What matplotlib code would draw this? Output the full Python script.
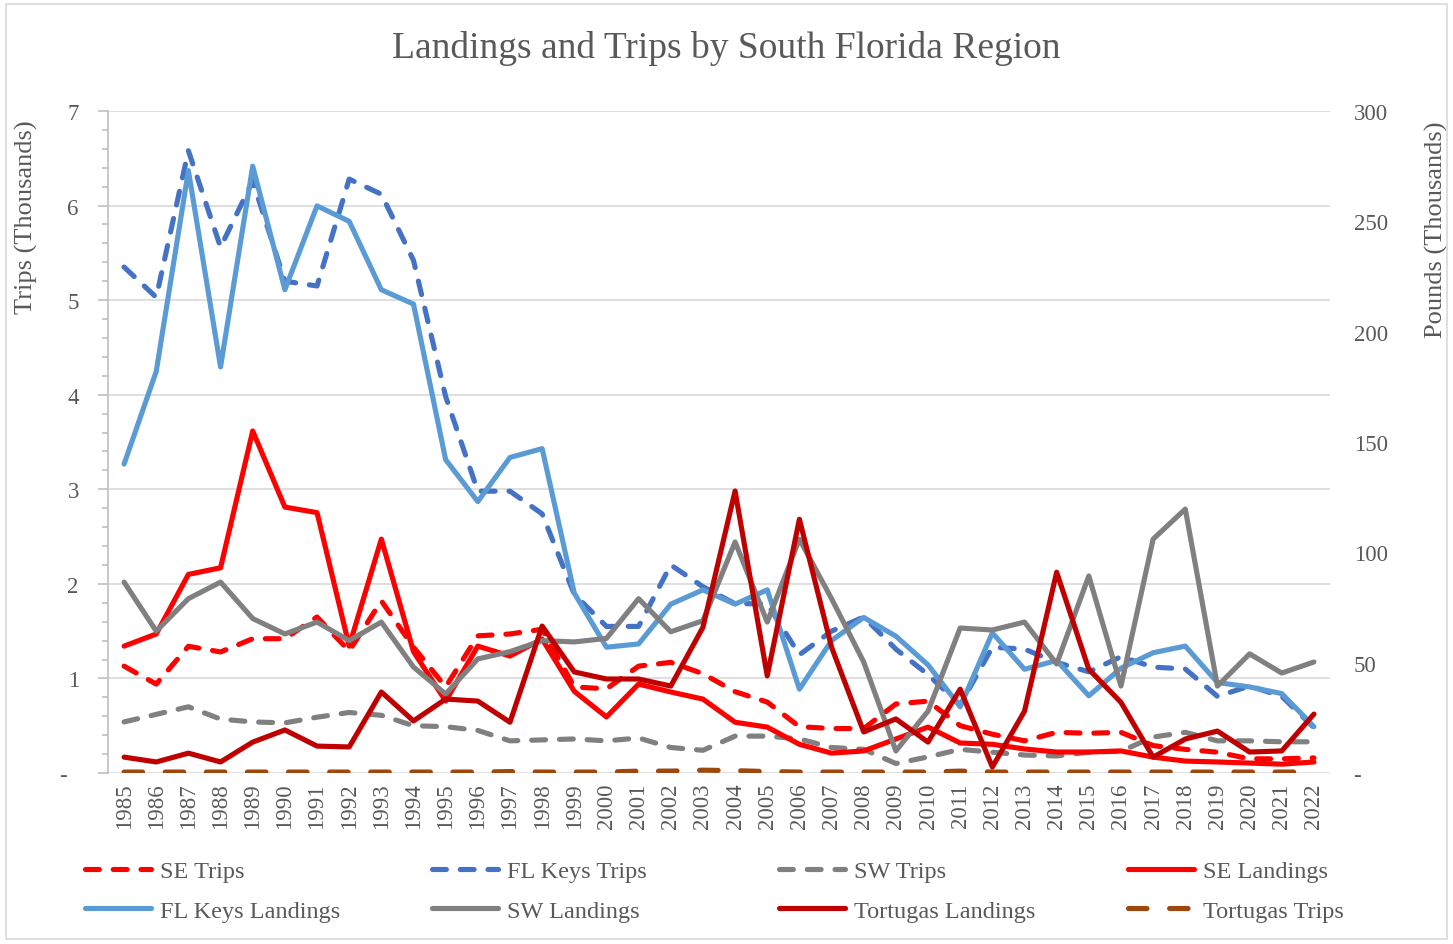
import matplotlib
matplotlib.use("Agg")
import matplotlib.pyplot as plt
from matplotlib.patches import Rectangle

plt.rcParams['font.family'] = ['Liberation Serif', 'DejaVu Serif']

years = list(range(1985, 2023))

# trips (thousands), left axis
se_trips = [1.13, 0.94, 1.34, 1.28, 1.42, 1.42, 1.65, 1.29, 1.82, 1.33,
            0.91, 1.45, 1.47, 1.52, 0.91, 0.89, 1.13, 1.17, 1.05, 0.86,
            0.75, 0.49, 0.47, 0.47, 0.73, 0.76, 0.50, 0.41, 0.34, 0.43,
            0.42, 0.43, 0.29, 0.25, 0.22, 0.15, 0.15, 0.16]
fk_trips = [5.35, 5.03, 6.58, 5.56, 6.26, 5.20, 5.15, 6.28, 6.12, 5.42,
            3.98, 2.98, 2.98, 2.74, 1.89, 1.55, 1.55, 2.20, 1.97, 1.79,
            1.79, 1.25, 1.50, 1.65, 1.31, 1.04, 0.72, 1.33, 1.31, 1.17,
            1.07, 1.23, 1.12, 1.10, 0.81, 0.92, 0.81, 0.48]
sw_trips = [0.54, 0.62, 0.70, 0.57, 0.54, 0.53, 0.59, 0.64, 0.61, 0.50,
            0.49, 0.45, 0.34, 0.35, 0.36, 0.34, 0.37, 0.27, 0.24, 0.39,
            0.39, 0.36, 0.27, 0.25, 0.10, 0.17, 0.25, 0.22, 0.19, 0.18,
            0.22, 0.23, 0.38, 0.43, 0.34, 0.34, 0.33, 0.33]
tort_trips = [0.01, 0.01, 0.01, 0.01, 0.01, 0.01, 0.01, 0.01, 0.01, 0.01,
              0.01, 0.01, 0.015, 0.01, 0.01, 0.01, 0.02, 0.02, 0.03, 0.025,
              0.015, 0.01, 0.01, 0.01, 0.01, 0.01, 0.02, 0.01, 0.01, 0.01,
              0.01, 0.01, 0.01, 0.01, 0.01, 0.01, 0.01, 0.01]

# landings (thousand pounds), right axis
se_land = [57.5, 63, 90, 93, 155, 120.5, 118, 57.5, 106, 55,
           32.6, 57.5, 53, 60.7, 37, 25.4, 40.3, 36.7, 33.5, 23,
           20.8, 13, 9, 10, 15.4, 20.8, 13.6, 13, 10.9, 9.5,
           9.5, 10, 7.2, 5.4, 5, 4.5, 4, 5]
fk_land = [140, 182, 273, 184, 275, 219, 257, 250, 219, 212.5,
           142, 123, 143, 147, 81.5, 57, 58.5, 76.5, 83, 76.5,
           83, 38, 60, 70.5, 62, 49, 30, 63.5, 47, 51,
           35, 47.5, 54.5, 57.5, 41, 39, 36, 21]
sw_land = [86.5, 64.3, 79, 86.5, 70, 63, 68.4, 60, 68.4, 48,
           35.8, 51.7, 55, 60, 59.4, 61, 79, 64, 69, 104.7,
           68.4, 106, 79, 50.3, 10, 28, 65.7, 64.8, 68.4, 49.4,
           89.3, 39.4, 106, 119.6, 39.4, 54, 45.3, 50.3]
tort_land = [7.2, 5, 9, 5, 14, 19.5, 12.2, 11.8, 36.7, 23.6,
             33.5, 32.6, 23, 66.6, 45.8, 42.6, 42.6, 39.4, 66, 127.8,
             44, 115, 57, 18.6, 24.5, 14, 38, 2.7, 28, 91,
             47, 32, 7.2, 15.4, 19, 9.5, 10, 26.7]

left_ticks = [0, 1, 2, 3, 4, 5, 6, 7]
left_labels = ['-  ', '1', '2', '3', '4', '5', '6', '7']
right_ticks = [0, 50, 100, 150, 200, 250, 300]
right_labels = ['-', '50', '100', '150', '200', '250', '300']

txt = '#595959'
grid = '#D9D9D9'
lw = 3.7
dash = (2.7, 2.7)
longdash = (3.6, 4.4)

fig = plt.figure(figsize=(14.53, 9.45), dpi=100)
fig.patches.append(Rectangle((6 / 1453, 5 / 945), 1441 / 1453, 935 / 945,
                             transform=fig.transFigure, fill=False,
                             edgecolor=grid, lw=1.2))
ax = fig.add_axes([108 / 1453, 1 - 774 / 945, 1222 / 1453, 662 / 945])
ax2 = ax.twinx()

l_se_t, = ax.plot(years, se_trips, color='#FF0000', lw=lw, dashes=dash, dash_capstyle='round', label='SE Trips')
l_fk_t, = ax.plot(years, fk_trips, color='#4472C4', lw=lw, dashes=dash, dash_capstyle='round', label='FL Keys Trips')
l_sw_t, = ax.plot(years, sw_trips, color='#808080', lw=lw, dashes=dash, dash_capstyle='round', label='SW Trips')
l_to_t, = ax.plot(years, tort_trips, color='#9E480E', lw=lw, dashes=longdash, dash_capstyle='round', label='Tortugas Trips')

l_se_l, = ax2.plot(years, se_land, color='#FF0000', lw=lw, solid_capstyle='round', label='SE Landings')
l_fk_l, = ax2.plot(years, fk_land, color='#5B9BD5', lw=lw, solid_capstyle='round', label='FL Keys Landings')
l_sw_l, = ax2.plot(years, sw_land, color='#808080', lw=lw, solid_capstyle='round', label='SW Landings')
l_to_l, = ax2.plot(years, tort_land, color='#C00000', lw=lw, solid_capstyle='round', label='Tortugas Landings')

ax.set_xlim(1984.5, 2022.5)
ax.set_ylim(0, 7)
ax2.set_ylim(0, 300)

ax.set_yticks(left_ticks)
ax.set_yticklabels(left_labels)
ax.set_yticks([i / 5 for i in range(36)], minor=True)
ax2.set_yticks(right_ticks)
ax2.set_yticklabels(right_labels)
ax.set_xticks(years)
ax.set_xticklabels([str(y) for y in years], rotation=90)

ax.grid(axis='y', color=grid, lw=1.2)
ax.set_axisbelow(True)
for s in ['top', 'right', 'bottom']:
    ax.spines[s].set_visible(False)
for s in ['top', 'right', 'bottom', 'left']:
    ax2.spines[s].set_visible(False)
ax.spines['left'].set_color('#BFBFBF')
ax.spines['left'].set_linewidth(1.2)

ax.tick_params(axis='y', which='major', length=7, width=1.2, color='#BFBFBF',
               labelsize=16.5, labelcolor=txt, pad=14)
ax.tick_params(axis='y', which='minor', length=4, width=1.2, color='#BFBFBF')
ax.tick_params(axis='x', length=0, labelsize=16.5, labelcolor=txt, pad=7)
ax2.tick_params(axis='y', length=0, labelsize=16.5, labelcolor=txt, pad=17)

ax.set_ylabel('Trips (Thousands)', fontsize=19, color=txt)
ax.yaxis.set_label_coords(-0.057, 0.841)
ax2.set_ylabel('Pounds (Thousands)', fontsize=19, color=txt)
ax2.yaxis.set_label_coords(1.078, 0.822)

fig.text(0.5, 1 - 48 / 945, 'Landings and Trips by South Florida Region',
         ha='center', va='center', fontsize=27, color=txt)

# legend: four columns placed side by side
cols = [[l_se_t, l_fk_l], [l_fk_t, l_sw_l], [l_sw_t, l_to_l], [l_se_l, l_to_t]]
col_x = [85, 432, 779, 1128]
for hs, x in zip(cols, col_x):
    fig.legend(hs, [h.get_label() for h in hs], loc='upper left',
               bbox_to_anchor=(x / 1453, 1 - 861 / 945), frameon=False,
               fontsize=17.5, labelcolor=txt, handlelength=2.7,
               handletextpad=0.4, labelspacing=0.72, borderpad=0,
               borderaxespad=0)

fig.savefig('out.png', dpi=100)
